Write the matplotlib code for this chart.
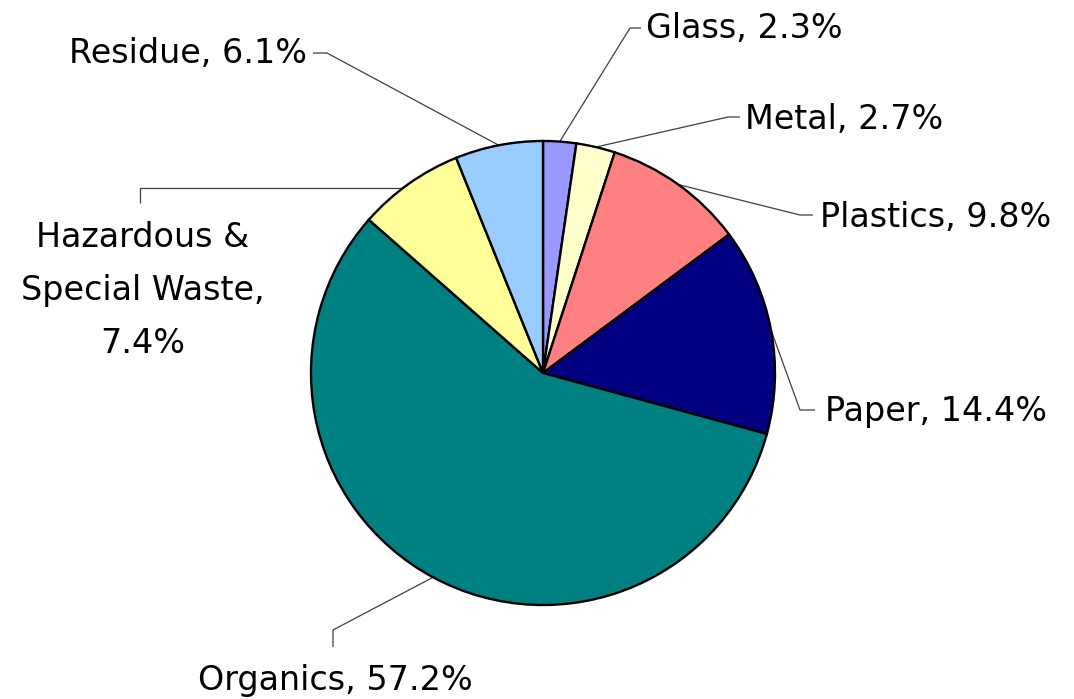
import matplotlib
matplotlib.use("Agg")
import matplotlib.pyplot as plt
import numpy as np

names = ["Glass", "Metal", "Plastics", "Paper", "Organics",
         "Hazardous & Special Waste", "Residue"]
values = [2.3, 2.7, 9.8, 14.4, 57.2, 7.4, 6.1]
colors = ["#9999FF", "#FFFFCC", "#FF8080", "#000080", "#008080",
          "#FFFF99", "#99CCFF"]

W, H = 1074, 699
fig = plt.figure(figsize=(W / 100, H / 100), dpi=100)
ax = fig.add_axes([0, 0, 1, 1])

cx, cy, R = 543, H - 373, 232
wedges, _ = ax.pie(values, colors=colors, startangle=90, counterclock=False,
                   center=(cx, cy), radius=R, frame=True,
                   wedgeprops=dict(edgecolor="black", linewidth=1.7))
ax.set_xlim(0, W)
ax.set_ylim(0, H)
ax.set_aspect("equal")
ax.axis("off")

def fy(y):
    return H - y

# layout: leader elbow points and label anchors (pixel coords, y from top)
layout = {
    "Glass":    dict(path=[(630, 28), (641, 28)], txt=(646, 38), ha="left"),
    "Metal":    dict(path=[(728, 117), (740, 117)], txt=(745, 129), ha="left"),
    "Plastics": dict(path=[(800, 215), (813, 215)], txt=(820, 227), ha="left"),
    "Paper":    dict(path=[(800, 410), (815, 410)], txt=(825, 421), ha="left"),
    "Organics": dict(path=[(333, 630), (333, 647)], txt=(335, 690), ha="center"),
    "Hazardous & Special Waste": dict(path=[(140, 188), (140, 203)], txt=(143, 247), ha="center"),
    "Residue":  dict(path=[(327, 53), (313, 53)], txt=(307, 63), ha="right"),
}

font = dict(family=["DejaVu Sans"], fontsize=24, color="black")

for w, name, val in zip(wedges, names, values):
    ang = np.deg2rad((w.theta1 + w.theta2) / 2)
    sx = cx + R * np.cos(ang)
    sy = cy + R * np.sin(ang)
    lay = layout[name]
    xs = [sx] + [p[0] for p in lay["path"]]
    ys = [sy] + [fy(p[1]) for p in lay["path"]]
    if name == "Hazardous & Special Waste":
        xs = [sx, lay["path"][0][0], lay["path"][1][0]]
        ys = [fy(188), fy(188), fy(203)]
    ax.plot(xs, ys, color="#404040", lw=0.9, zorder=0, solid_capstyle="butt")
    tx, ty = lay["txt"]
    if name == "Hazardous & Special Waste":
        for i, line in enumerate(["Hazardous &", "Special Waste,", f"{val:.1f}%"]):
            ax.text(tx, fy(ty + 53 * i), line, ha="center", va="baseline", **font)
    else:
        ax.text(tx, fy(ty), f"{name}, {val:.1f}%", ha=lay["ha"], va="baseline", **font)

fig.savefig("out.png", dpi=100, facecolor="white")
